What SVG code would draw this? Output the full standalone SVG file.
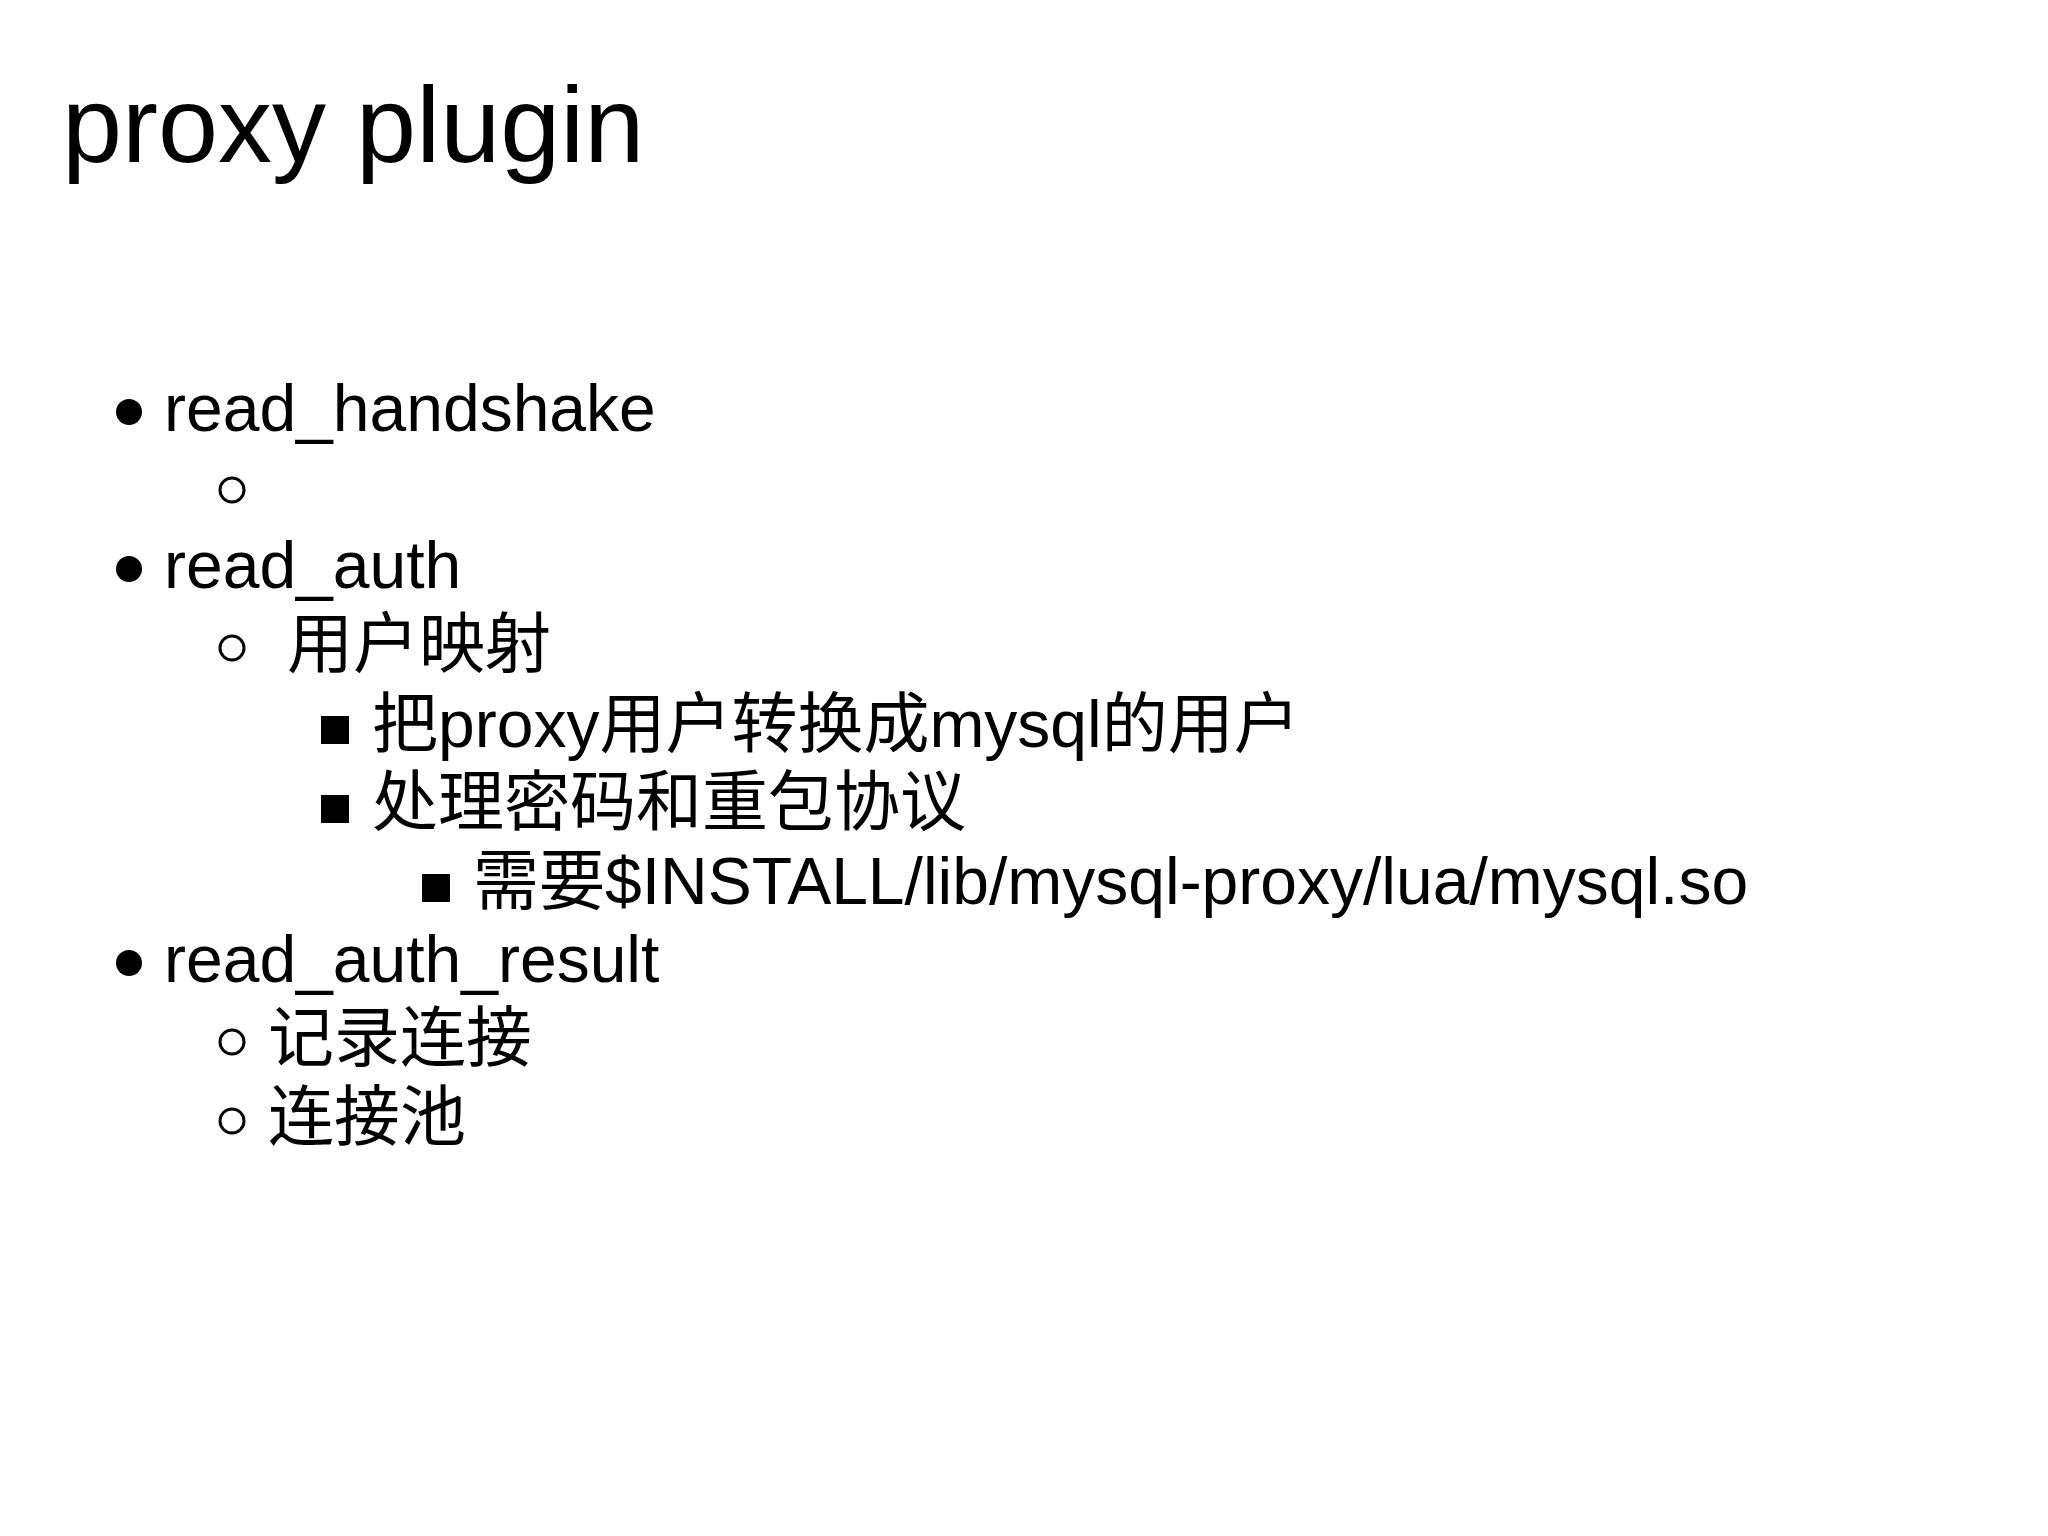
<svg xmlns="http://www.w3.org/2000/svg" width="2048" height="1536" viewBox="0 0 2048 1536">
<style>
text{font-family:"Liberation Sans","Noto Sans CJK JP",sans-serif;fill:#000}
.t{font-size:108px}
.l{font-size:66px}
.b{font-size:50px}
</style>
<rect width="2048" height="1536" fill="#fff"/>
<text class="t" x="62" y="162">proxy plugin</text>
<g class="l">
<circle cx="129" cy="412" r="13"/>
<text x="164" y="431">read_handshake</text>
<circle cx="232" cy="490" r="12" fill="none" stroke="#000" stroke-width="3"/>
<circle cx="129" cy="569" r="13"/>
<text x="164" y="588">read_auth</text>
<circle cx="232" cy="648" r="12" fill="none" stroke="#000" stroke-width="3"/>
<text x="287" y="667">用户映射</text>
<rect x="321" y="716" width="28" height="28"/>
<text x="372" y="747">把proxy用户转换成mysql的用户</text>
<rect x="321" y="795" width="28" height="28"/>
<text x="372" y="825">处理密码和重包协议</text>
<rect x="422" y="874" width="28" height="28"/>
<text x="473" y="904">需要$INSTALL/lib/mysql-proxy/lua/mysql.so</text>
<circle cx="129" cy="963" r="13"/>
<text x="164" y="982">read_auth_result</text>
<circle cx="232" cy="1042" r="12" fill="none" stroke="#000" stroke-width="3"/>
<text x="268" y="1061">记录连接</text>
<circle cx="232" cy="1121" r="12" fill="none" stroke="#000" stroke-width="3"/>
<text x="268" y="1140">连接池</text>
</g>
</svg>
